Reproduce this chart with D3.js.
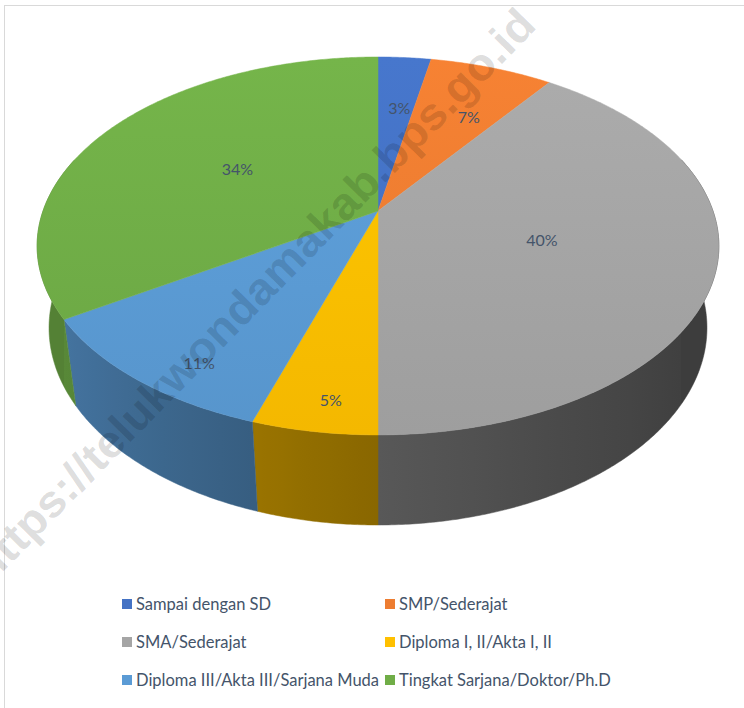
<!DOCTYPE html>
<html>
<head>
<meta charset="utf-8">
<script src="https://cdn.jsdelivr.net/npm/d3@7"></script>
<style>
  html, body { margin: 0; padding: 0; background: #fff; }
  svg { display: block; }
</style>
</head>
<body>
<main></main>
<script>
// data
const categories = [
  'Sampai dengan SD',
  'SMP/Sederajat',
  'SMA/Sederajat',
  'Diploma I, II/Akta I, II',
  'Diploma III/Akta III/Sarjana Muda',
  'Tingkat Sarjana/Doktor/Ph.D',
];
const values = [3, 7, 40, 5, 11, 34];
const colors = ['#4472C4', '#ED7D31', '#A5A5A5', '#FFC000', '#5B9BD5', '#70AD47'];
const watermark = 'https://telukwondamakab.bps.go.id';

const w = 744;
const h = 708;

// perspective of the 3d pie (fitted to the picture)
const cx = 378;
const cy = 211;
const rx = 335;
const ry = 182.5;
const persp = 0.185;
const depthShrink = 0.035;
const depth = 84.4;

const proj = (r, th, z) => {
  const u = r * Math.sin(th);
  const v = -r * Math.cos(th);
  const den = 1 - persp * v + depthShrink * z;
  return [cx + (rx * u) / den, cy + (ry * v + depth * z) / den];
};

const svg = d3.select('main').append('svg').attr('width', w).attr('height', h);
const defs = svg.append('defs');

svg.append('rect').attr('width', w).attr('height', h).attr('fill', '#fff');
svg
  .append('rect')
  .attr('x', 4.5)
  .attr('y', 5.5)
  .attr('width', w + 20)
  .attr('height', h + 20)
  .attr('fill', 'none')
  .attr('stroke', '#d9d9d9');

const pie = d3.pie().sort(null).value((d) => d.value);
const arcs = pie(categories.map((c, i) => ({ name: c, value: values[i], color: colors[i] })));

const line = d3.line();
const step = Math.PI / 360;
const arcPoints = (a0, a1, z) => {
  const n = Math.max(2, Math.ceil(Math.abs(a1 - a0) / step));
  return d3.range(n + 1).map((k) => proj(1, a0 + ((a1 - a0) * k) / n, z));
};

// side walls, front half (a little past it, the top faces hide the rest)
const wallShade = (c, th) => d3.color(c).darker(1.75 + 1.1 * Math.sin(th)).formatHex();
const front = [Math.PI / 2 - 0.3, (3 * Math.PI) / 2 + 0.3];
const walls = arcs
  .map((a, i) => ({
    i,
    color: a.data.color,
    t1: Math.max(a.startAngle, front[0]),
    t2: Math.min(a.endAngle, front[1]),
  }))
  .filter((d) => d.t2 > d.t1);

walls.forEach((d) => {
  const xa = proj(1, d.t1, 0)[0];
  const xb = proj(1, d.t2, 0)[0];
  const g = defs
    .append('linearGradient')
    .attr('id', `wall${d.i}`)
    .attr('gradientUnits', 'userSpaceOnUse')
    .attr('x1', xa)
    .attr('x2', xb)
    .attr('y1', 0)
    .attr('y2', 0);
  d3.range(9).forEach((k) => {
    const t = d.t1 + ((d.t2 - d.t1) * k) / 8;
    const x = proj(1, t, 0)[0];
    g.append('stop')
      .attr('offset', Math.abs(xb - xa) < 1e-6 ? 0 : (x - xa) / (xb - xa))
      .attr('stop-color', wallShade(d.color, t));
  });
});

svg
  .append('g')
  .selectAll('path')
  .data(walls)
  .join('path')
  .attr('d', (d) => line(arcPoints(d.t1, d.t2, 0).concat(arcPoints(d.t2, d.t1, 1))) + 'Z')
  .attr('fill', (d) => `url(#wall${d.i})`)
  .attr('stroke', (d) => `url(#wall${d.i})`)
  .attr('stroke-width', 0.5);

// top faces
arcs.forEach((a, i) => {
  const g = defs
    .append('linearGradient')
    .attr('id', `top${i}`)
    .attr('gradientUnits', 'userSpaceOnUse')
    .attr('x1', 0)
    .attr('x2', 0)
    .attr('y1', cy - ry / (1 + persp))
    .attr('y2', cy + ry / (1 - persp));
  g.append('stop').attr('offset', 0).attr('stop-color', d3.color(a.data.color).brighter(0.12).formatHex());
  g.append('stop').attr('offset', 1).attr('stop-color', d3.color(a.data.color).darker(0.12).formatHex());
});

svg
  .append('g')
  .selectAll('path')
  .data(arcs)
  .join('path')
  .attr('d', (a) => line([proj(0, 0, 0)].concat(arcPoints(a.startAngle, a.endAngle, 0))) + 'Z')
  .attr('fill', (a, i) => `url(#top${i})`)
  .attr('stroke', (a, i) => `url(#top${i})`)
  .attr('stroke-width', 0.5);

// percentage labels
const total = d3.sum(values);
svg
  .append('g')
  .selectAll('text')
  .data(arcs)
  .join('text')
  .attr('transform', (a) => {
    const mid = (a.startAngle + a.endAngle) / 2;
    const small = a.data.value / total < 0.15;
    const p = proj(small ? 0.78 : 0.5, mid, small ? 0.28 : 0);
    return `translate(${p[0]},${p[1]})`;
  })
  .attr('text-anchor', 'middle')
  .attr('dy', '0.35em')
  .style('font-family', 'Lato, "Open Sans", sans-serif')
  .style('font-size', '16px')
  .attr('fill', '#44546a')
  .text((a) => `${Math.round((a.data.value / total) * 100)}%`);

// legend
const legend = svg
  .append('g')
  .selectAll('g')
  .data(arcs)
  .join('g')
  .attr('transform', (a, i) => `translate(${i % 2 ? 385 : 122},${604 + Math.floor(i / 2) * 38})`);

legend
  .append('rect')
  .attr('y', -5)
  .attr('width', 10)
  .attr('height', 10)
  .attr('fill', (a) => a.data.color);

legend
  .append('text')
  .attr('x', 14)
  .attr('dy', '0.35em')
  .style('font-family', 'Lato, "Open Sans", sans-serif')
  .style('font-size', '16.5px')
  .attr('fill', '#44546a')
  .text((a) => a.data.name);

// watermark
svg
  .append('text')
  .attr('transform', 'translate(-10,585) rotate(-45.5)')
  .attr('textLength', 782)
  .attr('lengthAdjust', 'spacingAndGlyphs')
  .style('font-family', '"Liberation Sans", Arial, sans-serif')
  .style('font-weight', 'bold')
  .style('font-size', '45px')
  .attr('fill', '#000')
  .attr('fill-opacity', 0.14)
  .text(watermark);
</script>
</body>
</html>
